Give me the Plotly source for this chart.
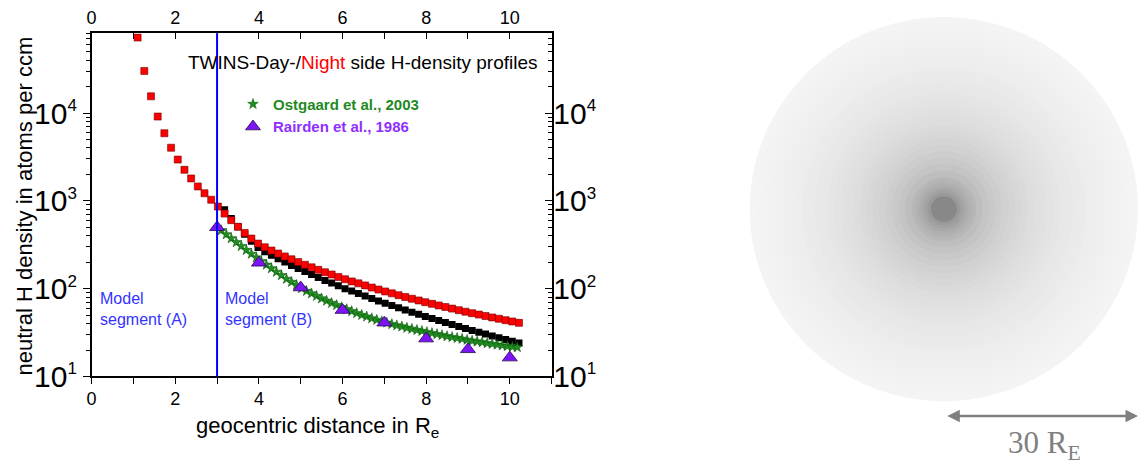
import plotly.graph_objects as go

# ---------------- data ----------------
night_x = [1.10, 1.26, 1.42, 1.58, 1.74, 1.90, 2.06, 2.22, 2.38, 2.54, 2.70, 2.86, 3.02,
           3.18, 3.34, 3.50, 3.66, 3.82, 3.98, 4.14, 4.30, 4.46, 4.62, 4.78, 4.94,
           5.10, 5.26, 5.42, 5.58, 5.74, 5.90, 6.06, 6.22, 6.38, 6.54, 6.70, 6.86,
           7.02, 7.18, 7.34, 7.50, 7.66, 7.82, 7.98, 8.14, 8.30, 8.46, 8.62, 8.78,
           8.94, 9.10, 9.26, 9.42, 9.58, 9.74, 9.90, 10.06, 10.22]
night_n = [72400, 30200, 15500, 9120, 5890, 4030, 2950, 2260, 1800, 1460, 1220, 1030, 861,
           716, 603, 507, 431, 372, 326, 296, 272, 251, 233, 216, 201,
           187, 175, 164, 154, 145, 136, 128, 121, 115, 109, 103, 97.8,
           93.0, 88.5, 84.3, 80.4, 76.8, 73.4, 70.2, 67.2, 64.4, 61.8, 59.3, 56.9,
           54.7, 52.6, 50.7, 48.8, 47.0, 45.4, 43.8, 42.3, 40.8]

day_x = [3.18, 3.34, 3.50, 3.66, 3.82, 3.98, 4.14, 4.30, 4.46, 4.62, 4.78, 4.94,
         5.10, 5.26, 5.42, 5.58, 5.74, 5.90, 6.06, 6.22, 6.38, 6.54, 6.70, 6.86,
         7.02, 7.18, 7.34, 7.50, 7.66, 7.82, 7.98, 8.14, 8.30, 8.46, 8.62, 8.78,
         8.94, 9.10, 9.26, 9.42, 9.58, 9.74, 9.90, 10.06, 10.22]
day_n = [794, 631, 507, 417, 347, 295, 264, 240, 219, 201, 184, 170,
         157, 145, 134, 124, 116, 108, 100, 94.0, 87.9, 82.3, 77.2, 72.5,
         68.3, 64.2, 60.5, 57.0, 53.9, 51.0, 48.2, 45.8, 43.3, 41.1, 39.0, 37.1,
         35.2, 33.5, 32.0, 30.4, 29.0, 27.7, 26.4, 25.2, 24.1]

ostgaard_x = [3.10, 3.22, 3.34, 3.46, 3.58, 3.70, 3.82, 3.94, 4.06, 4.18, 4.30, 4.42,
              4.54, 4.66, 4.78, 4.90, 5.02, 5.14, 5.26, 5.38, 5.50, 5.62, 5.74, 5.86,
              5.98, 6.10, 6.22, 6.34, 6.46, 6.58, 6.70, 6.82, 6.94, 7.06, 7.18, 7.30,
              7.42, 7.54, 7.66, 7.78, 7.90, 8.02, 8.14, 8.26, 8.38, 8.50, 8.62, 8.74,
              8.86, 8.98, 9.10, 9.22, 9.34, 9.46, 9.58, 9.70, 9.82, 9.94, 10.06, 10.18]
ostgaard_n = [462, 415, 374, 337, 305, 275, 249, 226, 205, 187, 170, 155,
              142, 129, 119, 110, 101, 94.0, 88.0, 82.4, 77.2, 72.7, 68.6, 64.8,
              61.4, 58.2, 55.3, 52.6, 50.1, 48.0, 45.9, 44.1, 42.4, 41.0, 39.4, 38.1,
              37.0, 35.8, 34.8, 33.8, 32.9, 32.0, 31.1, 30.3, 29.5, 28.7, 28.0, 27.4,
              26.8, 26.1, 25.5, 25.0, 24.5, 23.9, 23.5, 23.0, 22.6, 22.1, 21.8, 21.5]

rairden_x = [3, 4, 5, 6, 7, 8, 9, 10]
rairden_n = [500, 197, 103, 57, 41, 27, 20.4, 16.4]

segment_boundary = 3.0
x_ticks = [0, 2, 4, 6, 8, 10]
y_tickvals = [10, 100, 1000, 10000]
y_ticktext = ["10<sup><span style='font-size:17px'>%d</span></sup>" % e for e in [1, 2, 3, 4]]

# right panel: radial grey profile of the rendered image (radius in R_E, grey level 0-255)
disk_radii = [30, 29, 28, 27, 26, 25, 24, 23, 22, 21, 20, 19, 18, 17, 16, 15, 14, 13, 12,
              11, 10, 9, 8, 7, 6, 5, 4.5, 4, 3.5, 3, 2.5]
disk_gray = [244, 243, 242, 241, 240, 239, 238, 237, 235, 234, 232, 231, 229, 227, 225,
             223, 221, 218, 215, 212, 209, 205, 201, 196, 190, 183, 179, 174, 168, 161, 153]
earth_radius_plot = 2.0
earth_gray = 136
scale_bar_len = 30

# ---------------- layout helpers ----------------
W, H_REF = 1140, 465
H = 481                      # figure height; vertical positions below are given in a 465-px frame
FONT = "Liberation Sans, Arial, sans-serif"
px_l, px_r, px_t, px_b = 87, 549, 33.3, 377.3
Y_TOP = 4.909          # log10 of the top of the density axis
xdom = [px_l / W, px_r / W]
ydom = [1 - px_b / H_REF, 1 - px_t / H_REF]


def py_paper(py):
    return 1 - py / H_REF


def ylog_at(py):
    """log10 density at a given pixel row of the left panel (for text placement)."""
    return Y_TOP - (py - px_t) * (Y_TOP - 1) / (px_b - px_t)


def xval_at(px):
    return (px - px_l) * 11 / (px_r - px_l)


fig = go.Figure()

fig.add_trace(go.Scatter(x=day_x, y=day_n, mode="markers", showlegend=False,
                         marker=dict(symbol="square", size=7, color="black")))
fig.add_trace(go.Scatter(x=night_x, y=night_n, mode="markers", showlegend=False,
                         marker=dict(symbol="square", size=7, color="#ff0000",
                                     line=dict(width=0.6, color="#700000"))))
fig.add_trace(go.Scatter(x=ostgaard_x, y=ostgaard_n, mode="markers",
                         name="<b><span style='color:#1f8a1f'>Ostgaard et al., 2003</span></b>",
                         marker=dict(symbol="star", size=8, color="#1f8f1f",
                                     line=dict(width=0.5, color="#0b4f0b"))))
fig.add_trace(go.Scatter(x=rairden_x, y=rairden_n, mode="markers",
                         name="<b><span style='color:#8f2fff'>Rairden et al., 1986</span></b>",
                         marker=dict(symbol="triangle-up", size=13, color="#7d14f5",
                                     line=dict(width=0.8, color="#2a0a50"))))
# mirror axes (top / right)
fig.add_trace(go.Scatter(x=[], y=[], xaxis="x2", yaxis="y2", showlegend=False))
# right panel axes
fig.add_trace(go.Scatter(x=[], y=[], xaxis="x3", yaxis="y3", showlegend=False))

axis_common = dict(showline=True, linecolor="black", linewidth=1.5, showgrid=False,
                   zeroline=False, tickcolor="black", tickwidth=1.3)

y3_scale = 6.417  # px per R_E in the 465-px frame
fig.update_layout(
    width=W, height=H, margin=dict(l=0, r=0, t=0, b=0),
    paper_bgcolor="white", plot_bgcolor="white",
    font=dict(family=FONT, color="black"),
    xaxis=dict(domain=xdom, range=[0, 11], anchor="y", ticks="outside", ticklen=6,
               tickvals=x_ticks, tickfont=dict(size=18), ticklabelstandoff=-1,
               minor=dict(ticks="outside", ticklen=6, dtick=1, tick0=0, tickcolor="black"),
               **axis_common),
    yaxis=dict(domain=ydom, type="log", range=[1, Y_TOP], anchor="x", ticks="outside",
               ticklen=7, tickvals=y_tickvals, ticktext=y_ticktext, tickfont=dict(size=30),
               minor=dict(ticks="outside", ticklen=4, dtick="D1", tickcolor="black"),
               **axis_common),
    xaxis2=dict(overlaying="x", side="top", anchor="y", range=[0, 11], ticks="inside",
                ticklen=6, tickvals=x_ticks, tickfont=dict(size=18), ticklabelstandoff=0,
                minor=dict(ticks="inside", ticklen=6, dtick=1, tick0=0, tickcolor="black"),
                **axis_common),
    yaxis2=dict(overlaying="y", side="right", anchor="x", type="log", range=[1, Y_TOP],
                ticks="inside", ticklen=7, tickvals=y_tickvals, ticktext=y_ticktext,
                tickfont=dict(size=30), ticklabelstandoff=-6,
                minor=dict(ticks="inside", ticklen=4, dtick="D1", tickcolor="black"),
                **axis_common),
    xaxis3=dict(domain=[740 / W, 1.0], range=[(740 - 943) / 6.5, (W - 943) / 6.5],
                anchor="y3", visible=False, fixedrange=True),
    yaxis3=dict(domain=[0, 1], range=[-(H_REF - 209.5) / y3_scale, 209.5 / y3_scale],
                anchor="x3", visible=False, fixedrange=True),
    legend=dict(x=229 / W, y=py_paper(88), xanchor="left", yanchor="top",
                bgcolor="rgba(0,0,0,0)", font=dict(size=15, family=FONT),
                tracegroupgap=0),
)

shapes = [dict(type="line", xref="x", yref="y domain", x0=segment_boundary,
               x1=segment_boundary, y0=0, y1=1, line=dict(color="#0000ff", width=2),
               layer="above")]
for r, g in zip(disk_radii, disk_gray):
    shapes.append(dict(type="circle", xref="x3", yref="y3", x0=-r, x1=r, y0=-r, y1=r,
                       fillcolor="rgb(%d,%d,%d)" % (g, g, g), line=dict(width=0),
                       layer="below"))
shapes.append(dict(type="circle", xref="x3", yref="y3", x0=-earth_radius_plot,
                   x1=earth_radius_plot, y0=-earth_radius_plot, y1=earth_radius_plot,
                   fillcolor="rgb(%d,%d,%d)" % (earth_gray, earth_gray, earth_gray),
                   line=dict(width=0), layer="below"))
fig.update_layout(shapes=shapes)

bar_y = -(417 - 209.5) / y3_scale
annotations = [
    dict(xref="x", yref="y", x=xval_at(182), y=ylog_at(63), xanchor="left",
         yanchor="middle", showarrow=False,
         text="TWINS-Day-/<span style='color:#ff0000'>Night</span> side H-density profiles",
         font=dict(size=19, family=FONT, color="black")),
    dict(xref="x", yref="y", x=xval_at(93), y=ylog_at(310), xanchor="left",
         yanchor="middle", showarrow=False, align="left", text="Model<br>segment (A)",
         font=dict(size=16, family=FONT, color="#3333ff")),
    dict(xref="x", yref="y", x=xval_at(219), y=ylog_at(310), xanchor="left",
         yanchor="middle", showarrow=False, align="left", text="Model<br>segment (B)",
         font=dict(size=16, family=FONT, color="#3333ff")),
    dict(xref="paper", yref="paper", x=20 / W, y=py_paper(206), xanchor="center",
         yanchor="middle", showarrow=False, textangle=-90,
         text="neutral H density in atoms per ccm", font=dict(size=22, family=FONT)),
    dict(xref="paper", yref="paper", x=314 / W, y=py_paper(428), xanchor="center",
         yanchor="middle", showarrow=False,
         text="geocentric distance in R<sub>e</sub>", font=dict(size=22, family=FONT)),
    # scale bar
    dict(xref="x3", yref="y3", axref="x3", ayref="y3", x=scale_bar_len, y=bar_y,
         ax=0.3, ay=bar_y, showarrow=True, arrowside="end+start", arrowhead=2,
         arrowsize=1, arrowwidth=2.5, arrowcolor="#808080", text=""),
    dict(xref="x3", yref="y3", x=15.5, y=-(446 - 209.5) / y3_scale, xanchor="center",
         yanchor="middle", showarrow=False, text="30 R<sub>E</sub>",
         font=dict(size=31, family="Liberation Serif, DejaVu Serif, serif", color="#808080")),
]
fig.update_layout(annotations=annotations)

page_fix = ("document.documentElement.style.overflow='hidden';"
            "document.body.style.margin='0px';document.body.style.overflow='hidden';"
            "var g=document.getElementById('{plot_id}');"
            "g.style.position='absolute';g.style.left='0px';g.style.top='0px';")
fig.write_html("out.html", config={"displayModeBar": False}, post_script=page_fix)
